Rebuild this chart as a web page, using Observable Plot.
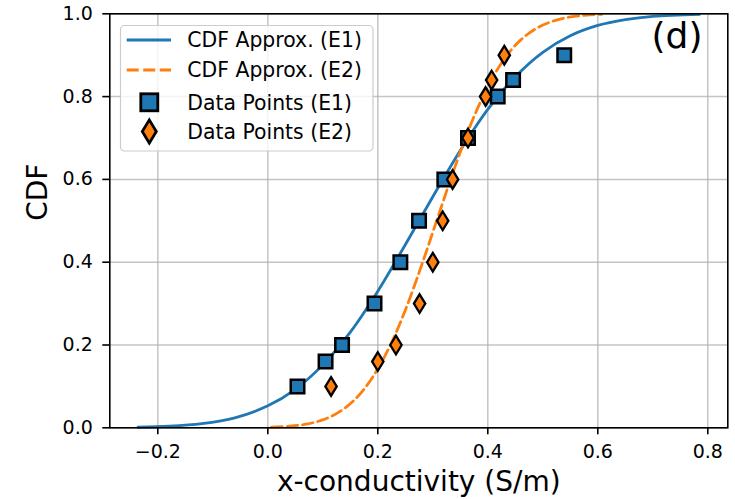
<!DOCTYPE html>
<html>
<head>
<meta charset="utf-8">
<script src="https://cdn.jsdelivr.net/npm/d3@7"></script>
<script src="https://cdn.jsdelivr.net/npm/@observablehq/plot@0.6"></script>
<style>
  html, body { margin: 0; padding: 0; background: white; }
  #wrap { position: relative; width: 735px; height: 499px; font-family: "DejaVu Sans", sans-serif; }
  #legend { position: absolute; left: 0; top: 0; pointer-events: none; }
</style>
</head>
<body>
<div id="wrap"></div>
<script>
// ---- data ----
const curveE1X = [-0.236, -0.18, -0.12, -0.06, 0.0, 0.05, 0.10, 0.15, 0.20, 0.25, 0.30, 0.35, 0.40, 0.45, 0.50, 0.55, 0.60, 0.65, 0.70, 0.785];
const curveE1Y = [0.0013, 0.0037, 0.010, 0.024, 0.053, 0.093, 0.152, 0.231, 0.330, 0.442, 0.558, 0.670, 0.769, 0.848, 0.907, 0.947, 0.972, 0.986, 0.994, 0.9987];
const curveE2X = [0.007, 0.04, 0.07, 0.10, 0.13, 0.16, 0.19, 0.22, 0.25, 0.28, 0.31, 0.34, 0.37, 0.40, 0.43, 0.46, 0.49, 0.52, 0.55, 0.58, 0.607];
const curveE2Y = [0.0013, 0.0038, 0.0089, 0.0192, 0.0384, 0.0708, 0.121, 0.192, 0.284, 0.394, 0.512, 0.629, 0.736, 0.824, 0.891, 0.937, 0.966, 0.983, 0.9925, 0.9968, 0.9987];
const pointsE1X = [0.054, 0.105, 0.135, 0.194, 0.241, 0.275, 0.321, 0.364, 0.418, 0.446, 0.539];
const pointsE1Y = [0.10, 0.16, 0.20, 0.30, 0.40, 0.50, 0.60, 0.70, 0.80, 0.84, 0.90];
const pointsE2X = [0.115, 0.200, 0.233, 0.276, 0.300, 0.318, 0.336, 0.364, 0.396, 0.407, 0.430];
const pointsE2Y = [0.10, 0.16, 0.20, 0.30, 0.40, 0.50, 0.60, 0.70, 0.80, 0.84, 0.90];
const xTicks = [-0.2, 0.0, 0.2, 0.4, 0.6, 0.8];
const yTicks = [0.0, 0.2, 0.4, 0.6, 0.8, 1.0];
const legendLabels = ["CDF Approx. (E1)", "CDF Approx. (E2)", "Data Points (E1)", "Data Points (E2)"];
const panelLabel = "(d)";
const xLabel = "x-conductivity (S/m)";
const yLabel = "CDF";

// ---- build tables ----
const e1Curve = curveE1X.map((x, i) => ({x, y: curveE1Y[i]}));
const e2Curve = curveE2X.map((x, i) => ({x, y: curveE2Y[i]}));
const e1Pts = pointsE1X.map((x, i) => ({x, y: pointsE1Y[i]}));
const e2Pts = pointsE2X.map((x, i) => ({x, y: pointsE2Y[i]}));

const BLUE = "#1f77b4", ORANGE = "#ff7f0e";
const SQ = 13.5; // square marker side
const DH = 9.3, DW = 5.7; // thin diamond half height / half width

const squareSymbol = { draw(ctx) { const h = SQ / 2; ctx.moveTo(-h, -h); ctx.lineTo(h, -h); ctx.lineTo(h, h); ctx.lineTo(-h, h); ctx.closePath(); } };
const diamondSymbol = { draw(ctx) { ctx.moveTo(0, -DH); ctx.lineTo(DW, 0); ctx.lineTo(0, DH); ctx.lineTo(-DW, 0); ctx.closePath(); } };

const mL = 109.3, mR = 7.7, mT = 13.3, mB = 71.7;

const chart = Plot.plot({
  width: 735,
  height: 499,
  marginLeft: mL,
  marginRight: mR,
  marginTop: mT,
  marginBottom: mB,
  style: { fontFamily: "DejaVu Sans", fontSize: "19px", background: "white", color: "black", overflow: "visible" },
  x: { domain: [-0.2873, 0.8364] },
  y: { domain: [0, 1] },
  marks: [
    Plot.gridX(xTicks, { stroke: "#b0b0b0", strokeOpacity: 0.75, strokeWidth: 1.5 }),
    Plot.gridY(yTicks, { stroke: "#b0b0b0", strokeOpacity: 0.75, strokeWidth: 1.5 }),
    Plot.line(e1Curve, { x: "x", y: "y", stroke: BLUE, strokeWidth: 2.8, curve: "catmull-rom" }),
    Plot.line(e2Curve, { x: "x", y: "y", stroke: ORANGE, strokeWidth: 2.8, strokeDasharray: "10.5,5", curve: "catmull-rom" }),
    Plot.dot(e1Pts, { x: "x", y: "y", symbol: squareSymbol, fill: BLUE, stroke: "black", strokeWidth: 2.5 }),
    Plot.dot(e2Pts, { x: "x", y: "y", symbol: diamondSymbol, fill: ORANGE, stroke: "black", strokeWidth: 2.3, strokeLinejoin: "miter" }),
    Plot.frame({ stroke: "black", strokeWidth: 1.6 }),
    Plot.axisX(xTicks, { tickSize: 7, tickPadding: 10, strokeWidth: 1.6, fontSize: 19, label: null, tickFormat: d3.format(".1f") }),
    Plot.axisY(yTicks, { tickSize: 7, tickPadding: 10, strokeWidth: 1.6, fontSize: 19, label: null, tickFormat: d3.format(".1f") }),
    Plot.text([xLabel], { frameAnchor: "bottom", lineAnchor: "middle", dy: 54, fontSize: 28, fill: "black" }),
    Plot.text([yLabel], { frameAnchor: "left", lineAnchor: "middle", dx: -71.8, rotate: -90, fontSize: 28, fill: "black" }),
    Plot.text([panelLabel], { frameAnchor: "top-right", lineAnchor: "middle", dx: -25.3, dy: 22.5, textAnchor: "end", fontSize: 36, fill: "black" })
  ]
});

const wrap = document.getElementById("wrap");
wrap.appendChild(chart);

// ---- legend overlay ----
const NS = "http://www.w3.org/2000/svg";
const leg = document.createElementNS(NS, "svg");
leg.setAttribute("id", "legend");
leg.setAttribute("width", 735);
leg.setAttribute("height", 499);
function el(tag, attrs) { const e = document.createElementNS(NS, tag); for (const k in attrs) e.setAttribute(k, attrs[k]); leg.appendChild(e); return e; }
el("rect", { x: 120.5, y: 25.5, width: 252.5, height: 125.5, rx: 4, fill: "white", "fill-opacity": 0.8, stroke: "#cccccc", "stroke-width": 1.2 });
const rowsY = [40, 70, 102.3, 131.5];
el("line", { x1: 126.7, x2: 171, y1: rowsY[0], y2: rowsY[0], stroke: BLUE, "stroke-width": 2.8 });
el("line", { x1: 126.7, x2: 171, y1: rowsY[1], y2: rowsY[1], stroke: ORANGE, "stroke-width": 2.8, "stroke-dasharray": "12,4.5" });
const cx = 149.3;
const LSQ = 17, LDH = 11.6, LDW = 7.0;
el("rect", { x: cx - LSQ / 2, y: rowsY[2] - LSQ / 2, width: LSQ, height: LSQ, fill: BLUE, stroke: "black", "stroke-width": 2.8 });
el("path", { d: `M${cx},${rowsY[3] - LDH}L${cx + LDW},${rowsY[3]}L${cx},${rowsY[3] + LDH}L${cx - LDW},${rowsY[3]}Z`, fill: ORANGE, stroke: "black", "stroke-width": 2.8 });
legendLabels.forEach((t, i) => {
  const tx = el("text", { x: 187.3, y: rowsY[i], dy: "0.36em", "font-family": "DejaVu Sans", "font-size": 20.4, fill: "black" });
  tx.textContent = t;
});
wrap.appendChild(leg);
</script>
</body>
</html>
